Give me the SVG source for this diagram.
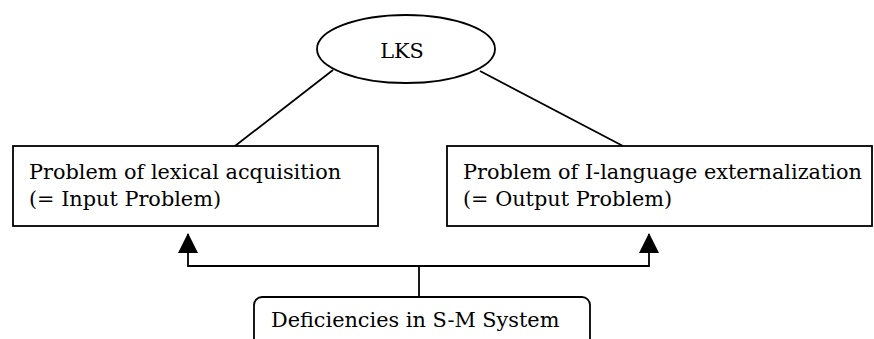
<svg xmlns="http://www.w3.org/2000/svg" width="874" height="339" viewBox="0 0 874 339">
<style>
.s{fill:#fff;stroke:#000;stroke-width:1.8}
.l{fill:none;stroke:#000;stroke-width:1.8}
.t{font-family:"DejaVu Serif","Liberation Serif",serif;font-size:20.8px;fill:#000}
</style>
<defs>
<marker id="ah" markerUnits="userSpaceOnUse" markerWidth="20" markerHeight="22" refX="19" refY="10" orient="auto" viewBox="0 0 20 20">
<path d="M0,0 L20,10 L0,20 Z" fill="#000"/>
</marker>
</defs>
<g id="connectors">
<line class="l" x1="333" y1="70" x2="235" y2="146"/>
<line class="l" x1="480" y1="71" x2="623" y2="146"/>
<polyline class="l" points="419,297 419,266 188,266 188,234" marker-end="url(#ah)"/>
<polyline class="l" points="419,266 649,266 649,234" marker-end="url(#ah)"/>
</g>
<g id="lks">
<ellipse class="s" cx="406" cy="49" rx="89" ry="34"/>
<text class="t" x="402" y="58" text-anchor="middle">LKS</text>
</g>
<g id="input">
<rect class="s" x="13" y="146" width="365" height="80"/>
<text class="t" x="29" y="179">Problem of lexical acquisition</text>
<text class="t" x="29" y="206">(= Input Problem)</text>
</g>
<g id="output">
<rect class="s" x="447" y="146" width="425" height="80"/>
<text class="t" x="463" y="179">Problem of I-language externalization</text>
<text class="t" x="463" y="206">(= Output Problem)</text>
</g>
<g id="sm">
<rect class="s" x="254" y="297" width="336" height="60" rx="8" ry="8"/>
<text class="t" x="271" y="327">Deficiencies in S-M System</text>
</g>
</svg>
